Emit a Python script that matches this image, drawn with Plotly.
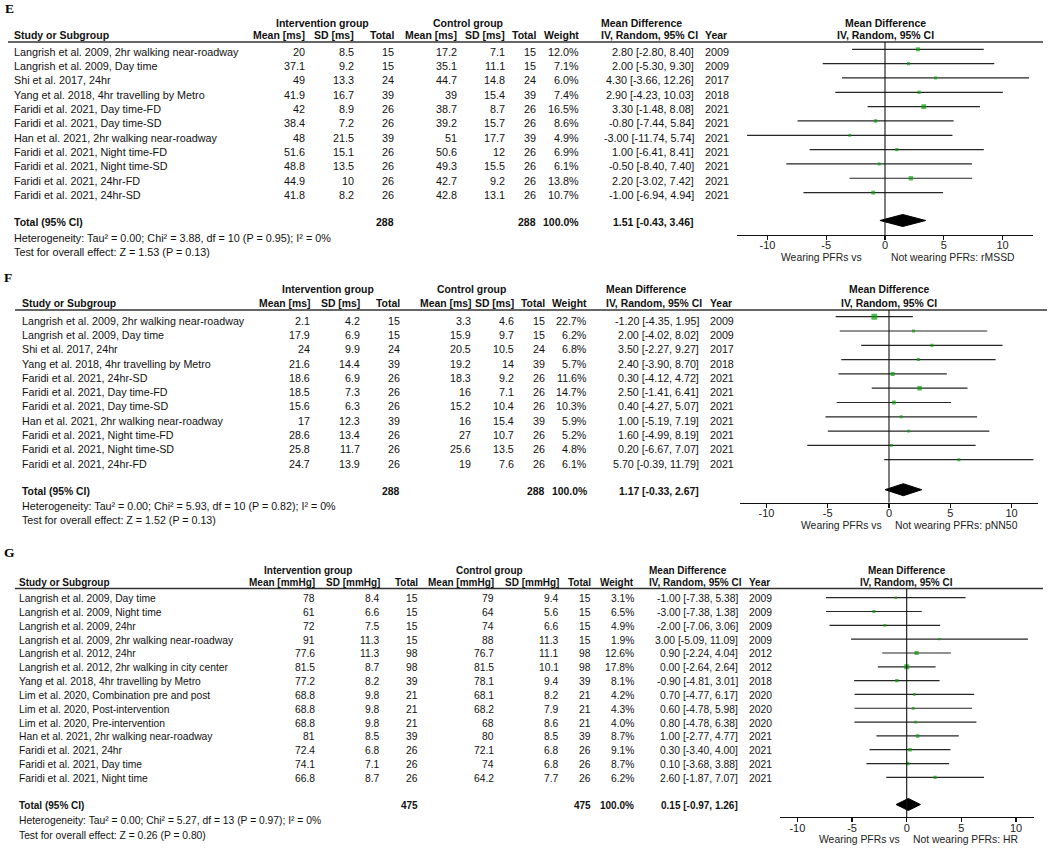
import plotly.graph_objects as go

W, H = 1050, 854
SANS = "Arial, 'Liberation Sans', Helvetica, sans-serif"
SERIF = "'Times New Roman', 'Liberation Serif', serif"

# ---------------- Panel E : rMSSD ----------------
e_study = ["Langrish et al. 2009, 2hr walking near-roadway", "Langrish et al. 2009, Day time",
           "Shi et al. 2017, 24hr", "Yang et al. 2018, 4hr travelling by Metro",
           "Faridi et al. 2021, Day time-FD", "Faridi et al. 2021, Day time-SD",
           "Han et al. 2021, 2hr walking near-roadway", "Faridi et al. 2021, Night time-FD",
           "Faridi et al. 2021, Night time-SD", "Faridi et al. 2021, 24hr-FD",
           "Faridi et al. 2021, 24hr-SD"]
e_int_mean = [20, 37.1, 49, 41.9, 42, 38.4, 48, 51.6, 48.8, 44.9, 41.8]
e_int_sd = [8.5, 9.2, 13.3, 16.7, 8.9, 7.2, 21.5, 15.1, 13.5, 10, 8.2]
e_int_n = [15, 15, 24, 39, 26, 26, 39, 26, 26, 26, 26]
e_ctl_mean = [17.2, 35.1, 44.7, 39, 38.7, 39.2, 51, 50.6, 49.3, 42.7, 42.8]
e_ctl_sd = [7.1, 11.1, 14.8, 15.4, 8.7, 15.7, 17.7, 12, 15.5, 9.2, 13.1]
e_ctl_n = [15, 15, 24, 39, 26, 26, 39, 26, 26, 26, 26]
e_weight = [12.0, 7.1, 6.0, 7.4, 16.5, 8.6, 4.9, 6.9, 6.1, 13.8, 10.7]
e_md = [2.80, 2.00, 4.30, 2.90, 3.30, -0.80, -3.00, 1.00, -0.50, 2.20, -1.00]
e_lo = [-2.80, -5.30, -3.66, -4.23, -1.48, -7.44, -11.74, -6.41, -8.40, -3.02, -6.94]
e_hi = [8.40, 9.30, 12.26, 10.03, 8.08, 5.84, 5.74, 8.41, 7.40, 7.42, 4.94]
e_year = [2009, 2009, 2017, 2018, 2021, 2021, 2021, 2021, 2021, 2021, 2021]
e_totals = [288, 288]
e_total_weight = "100.0%"
e_pooled = [1.51, -0.43, 3.46]
e_het = "Heterogeneity: Tau² = 0.00; Chi² = 3.88, df = 10 (P = 0.95); I² = 0%"
e_test = "Test for overall effect: Z = 1.53 (P = 0.13)"

# ---------------- Panel F : pNN50 ----------------
f_study = ["Langrish et al. 2009, 2hr walking near-roadway", "Langrish et al. 2009, Day time",
           "Shi et al. 2017, 24hr", "Yang et al. 2018, 4hr travelling by Metro",
           "Faridi et al. 2021, 24hr-SD", "Faridi et al. 2021, Day time-FD",
           "Faridi et al. 2021, Day time-SD", "Han et al. 2021, 2hr walking near-roadway",
           "Faridi et al. 2021, Night time-FD", "Faridi et al. 2021, Night time-SD",
           "Faridi et al. 2021, 24hr-FD"]
f_int_mean = [2.1, 17.9, 24, 21.6, 18.6, 18.5, 15.6, 17, 28.6, 25.8, 24.7]
f_int_sd = [4.2, 6.9, 9.9, 14.4, 6.9, 7.3, 6.3, 12.3, 13.4, 11.7, 13.9]
f_int_n = [15, 15, 24, 39, 26, 26, 26, 39, 26, 26, 26]
f_ctl_mean = [3.3, 15.9, 20.5, 19.2, 18.3, 16, 15.2, 16, 27, 25.6, 19]
f_ctl_sd = [4.6, 9.7, 10.5, 14, 9.2, 7.1, 10.4, 15.4, 10.7, 13.5, 7.6]
f_ctl_n = [15, 15, 24, 39, 26, 26, 26, 39, 26, 26, 26]
f_weight = [22.7, 6.2, 6.8, 5.7, 11.6, 14.7, 10.3, 5.9, 5.2, 4.8, 6.1]
f_md = [-1.20, 2.00, 3.50, 2.40, 0.30, 2.50, 0.40, 1.00, 1.60, 0.20, 5.70]
f_lo = [-4.35, -4.02, -2.27, -3.90, -4.12, -1.41, -4.27, -5.19, -4.99, -6.67, -0.39]
f_hi = [1.95, 8.02, 9.27, 8.70, 4.72, 6.41, 5.07, 7.19, 8.19, 7.07, 11.79]
f_year = [2009, 2009, 2017, 2018, 2021, 2021, 2021, 2021, 2021, 2021, 2021]
f_totals = [288, 288]
f_total_weight = "100.0%"
f_pooled = [1.17, -0.33, 2.67]
f_het = "Heterogeneity: Tau² = 0.00; Chi² = 5.93, df = 10 (P = 0.82); I² = 0%"
f_test = "Test for overall effect: Z = 1.52 (P = 0.13)"

# ---------------- Panel G : HR ----------------
g_study = ["Langrish et al. 2009, Day time", "Langrish et al. 2009, Night time",
           "Langrish et al. 2009, 24hr", "Langrish et al. 2009, 2hr walking near-roadway",
           "Langrish et al. 2012, 24hr", "Langrish et al. 2012, 2hr walking in city center",
           "Yang et al. 2018, 4hr travelling by Metro", "Lim et al. 2020, Combination pre and post",
           "Lim et al. 2020, Post-intervention", "Lim et al. 2020, Pre-intervention",
           "Han et al. 2021, 2hr walking near-roadway", "Faridi et al. 2021, 24hr",
           "Faridi et al. 2021, Day time", "Faridi et al. 2021, Night time"]
g_int_mean = [78, 61, 72, 91, 77.6, 81.5, 77.2, 68.8, 68.8, 68.8, 81, 72.4, 74.1, 66.8]
g_int_sd = [8.4, 6.6, 7.5, 11.3, 11.3, 8.7, 8.2, 9.8, 9.8, 9.8, 8.5, 6.8, 7.1, 8.7]
g_int_n = [15, 15, 15, 15, 98, 98, 39, 21, 21, 21, 39, 26, 26, 26]
g_ctl_mean = [79, 64, 74, 88, 76.7, 81.5, 78.1, 68.1, 68.2, 68, 80, 72.1, 74, 64.2]
g_ctl_sd = [9.4, 5.6, 6.6, 11.3, 11.1, 10.1, 9.4, 8.2, 7.9, 8.6, 8.5, 6.8, 6.8, 7.7]
g_ctl_n = [15, 15, 15, 15, 98, 98, 39, 21, 21, 21, 39, 26, 26, 26]
g_weight = [3.1, 6.5, 4.9, 1.9, 12.6, 17.8, 8.1, 4.2, 4.3, 4.0, 8.7, 9.1, 8.7, 6.2]
g_md = [-1.00, -3.00, -2.00, 3.00, 0.90, 0.00, -0.90, 0.70, 0.60, 0.80, 1.00, 0.30, 0.10, 2.60]
g_lo = [-7.38, -7.38, -7.06, -5.09, -2.24, -2.64, -4.81, -4.77, -4.78, -4.78, -2.77, -3.40, -3.68, -1.87]
g_hi = [5.38, 1.38, 3.06, 11.09, 4.04, 2.64, 3.01, 6.17, 5.98, 6.38, 4.77, 4.00, 3.88, 7.07]
g_year = [2009, 2009, 2009, 2009, 2012, 2012, 2018, 2020, 2020, 2020, 2021, 2021, 2021, 2021]
g_totals = [475, 475]
g_total_weight = "100.0%"
g_pooled = [0.15, -0.97, 1.26]
g_het = "Heterogeneity: Tau² = 0.00; Chi² = 5.27, df = 13 (P = 0.97); I² = 0%"
g_test = "Test for overall effect: Z = 0.26 (P = 0.80)"

tick_vals = [-10, -5, 0, 5, 10]
tick_text = ["-10", "-5", "0", "5", "10"]

panels = [
    dict(letter="E", unit="ms", outcome="rMSSD",
         study=e_study, im=e_int_mean, isd=e_int_sd, inn=e_int_n, cm=e_ctl_mean, csd=e_ctl_sd, cn=e_ctl_n,
         w=e_weight, md=e_md, lo=e_lo, hi=e_hi, year=e_year, totals=e_totals, tw=e_total_weight,
         pooled=e_pooled, het=e_het, test=e_test),
    dict(letter="F", unit="ms", outcome="pNN50",
         study=f_study, im=f_int_mean, isd=f_int_sd, inn=f_int_n, cm=f_ctl_mean, csd=f_ctl_sd, cn=f_ctl_n,
         w=f_weight, md=f_md, lo=f_lo, hi=f_hi, year=f_year, totals=f_totals, tw=f_total_weight,
         pooled=f_pooled, het=f_het, test=f_test),
    dict(letter="G", unit="mmHg", outcome="HR",
         study=g_study, im=g_int_mean, isd=g_int_sd, inn=g_int_n, cm=g_ctl_mean, csd=g_ctl_sd, cn=g_ctl_n,
         w=g_weight, md=g_md, lo=g_lo, hi=g_hi, year=g_year, totals=g_totals, tw=g_total_weight,
         pooled=g_pooled, het=g_het, test=g_test),
]

# layout geometry (pixels)
geo = [
    dict(letter_xy=(4, 8), h1=22.7, h2=35.5, rule=42, row0=51.7, dy=14.33, total=221.7, het=238.3, test=252.3,
         lab_x=13, cols=[306, 355, 395, 458, 506, 537, 580, 695], md_x=600, year_x=704,
         int_c=322, ctl_c=468, fs=10.8, rule_x=(8, 1043),
         fx0=737, fx1=1033, zero=885, scale=11.75, axis_y=235, yoff=-2.4, lab_y=257.5, lab_l=863, lab_r=890),
    dict(letter_xy=(3, 277), h1=289, h2=303.5, rule=310, row0=320.7, dy=14.3, total=491.7, het=505.7, test=519.5,
         lab_x=20.7, cols=[311, 361, 401, 472, 515, 546, 588, 700], md_x=605, year_x=709,
         int_c=328, ctl_c=471, fs=10.7, rule_x=(15, 1047),
         fx0=740, fx1=1038, zero=889, scale=12.25, axis_y=502.7, yoff=-4, lab_y=525.5, lab_l=883, lab_r=894),
    dict(letter_xy=(3, 552.7), h1=570.5, h2=582, rule=588.5, row0=598.7, dy=13.82, total=805, het=820, test=835,
         lab_x=18, cols=[316, 381, 419, 495, 560, 592, 635, 739], md_x=648, year_x=748,
         int_c=308, ctl_c=489, fs=10.3, rule_x=(15, 1043),
         fx0=779.5, fx1=1034, zero=906.7, scale=10.93, axis_y=817.3, yoff=-1, lab_y=839.5, lab_l=901, lab_r=911.7),
]

fig = go.Figure()
annotations = []
shapes = []


def px(x):
    return x / W


def py(y):
    return 1 - y / H


def add_text(x, y, s, anchor="left", size=10.8, bold=False, family=SANS, color="#111111"):
    if bold:
        s = "<b>" + s + "</b>"
    annotations.append(dict(x=px(x), y=py(y), xref="paper", yref="paper", text=s, showarrow=False,
                            xanchor=anchor, yanchor="middle", borderpad=0,
                            font=dict(family=family, size=size, color=color)))


def fmt(v):
    return f"{v:g}"


layout_axes = {}
for k, (p, g) in enumerate(zip(panels, geo), start=1):
    fs = g["fs"]
    hs = fs - 0.3  # bold header size
    xa = "x" if k == 1 else f"x{k}"
    ya = "y" if k == 1 else f"y{k}"
    fc = g["zero"]
    # panel letter
    add_text(g["letter_xy"][0], g["letter_xy"][1], p["letter"], "left", 13.5, True, SERIF, "#000")
    # header row 1
    add_text(g["int_c"], g["h1"], "Intervention group", "center", hs, True)
    add_text(g["ctl_c"], g["h1"], "Control group", "center", hs, True)
    add_text(g["md_x"], g["h1"], "Mean Difference", "left", hs, True)
    add_text(fc, g["h1"], "Mean Difference", "center", hs, True)
    # header row 2
    add_text(g["lab_x"], g["h2"], "Study or Subgroup", "left", hs, True)
    u = p["unit"]
    hdrs = [f"Mean [{u}]", f"SD [{u}]", "Total", f"Mean [{u}]", f"SD [{u}]", "Total", "Weight"]
    for hx, ht in zip(g["cols"][:7], hdrs):
        add_text(hx, g["h2"], ht, "right", hs, True)
    add_text(g["md_x"], g["h2"], "IV, Random, 95% CI", "left", hs, True)
    add_text(g["year_x"], g["h2"], "Year", "left", hs, True)
    add_text(fc, g["h2"], "IV, Random, 95% CI", "center", hs, True)
    # header rule
    shapes.append(dict(type="line", xref="paper", yref="paper", x0=px(g["rule_x"][0]), x1=px(g["rule_x"][1]),
                       y0=py(g["rule"]), y1=py(g["rule"]), line=dict(color="#333333", width=1.5)))
    # rows
    n = len(p["study"])
    row_y = [g["row0"] + i * g["dy"] for i in range(n)]
    c = g["cols"]
    for i in range(n):
        y = row_y[i]
        add_text(g["lab_x"], y, p["study"][i], "left", fs)
        vals = [fmt(p["im"][i]), fmt(p["isd"][i]), str(p["inn"][i]), fmt(p["cm"][i]), fmt(p["csd"][i]),
                str(p["cn"][i]), f"{p['w'][i]:.1f}%",
                f"{p['md'][i]:.2f} [{p['lo'][i]:.2f}, {p['hi'][i]:.2f}]"]
        for cx, v in zip(c, vals):
            add_text(cx, y, v, "right", fs)
        add_text(g["year_x"], y, str(p["year"][i]), "left", fs)
    # total row
    add_text(g["lab_x"], g["total"], "Total (95% CI)", "left", hs, True)
    add_text(c[2], g["total"], str(p["totals"][0]), "right", hs, True)
    add_text(c[5], g["total"], str(p["totals"][1]), "right", hs, True)
    add_text(c[6], g["total"], p["tw"], "right", hs, True)
    pm, plo, phi = p["pooled"]
    add_text(c[7], g["total"], f"{pm:.2f} [{plo:.2f}, {phi:.2f}]", "right", hs, True)
    add_text(g["lab_x"], g["het"], p["het"], "left", fs)
    add_text(g["lab_x"], g["test"], p["test"], "left", fs)

    # ---------- forest plot ----------
    fy = [yy + g["yoff"] for yy in row_y]
    lx, ly = [], []
    for i in range(n):
        lx += [p["lo"][i], p["hi"][i], None]
        ly += [fy[i], fy[i], None]
    fig.add_trace(go.Scatter(x=lx, y=ly, mode="lines", line=dict(color="#262626", width=1.2),
                             xaxis=xa, yaxis=ya, hoverinfo="skip", showlegend=False))
    fig.add_trace(go.Scatter(x=p["md"], y=fy, mode="markers",
                             marker=dict(symbol="square", color="#0c9c0c",
                                         size=[2.0 + 0.17 * wv for wv in p["w"]], line=dict(width=0)),
                             xaxis=xa, yaxis=ya, showlegend=False))
    ty = g["total"] + g["yoff"] * 0.5
    hh = 6
    fig.add_trace(go.Scatter(x=[plo, pm, phi, pm, plo], y=[ty, ty - hh, ty, ty + hh, ty], mode="lines",
                             fill="toself", fillcolor="#000000", line=dict(color="#000000", width=1),
                             xaxis=xa, yaxis=ya, hoverinfo="skip", showlegend=False))
    # zero line
    shapes.append(dict(type="line", xref=xa, yref=ya, x0=0, x1=0, y0=g["rule"], y1=g["axis_y"],
                       line=dict(color="#111111", width=1.1)))
    xr = [(g["fx0"] - g["zero"]) / g["scale"], (g["fx1"] - g["zero"]) / g["scale"]]
    layout_axes["xaxis" if k == 1 else f"xaxis{k}"] = dict(
        domain=[px(g["fx0"]), px(g["fx1"])], range=xr, anchor=ya, showgrid=False, zeroline=False,
        showline=True, linecolor="#111111", linewidth=1.1, ticks="outside", ticklen=4, tickwidth=1.1,
        tickcolor="#111111", tickvals=tick_vals, ticktext=tick_text, ticklabelstandoff=-4,
        tickfont=dict(family=SANS, size=11, color="#222222"), fixedrange=True)
    layout_axes["yaxis" if k == 1 else f"yaxis{k}"] = dict(
        domain=[py(g["axis_y"]), py(g["rule"])], range=[g["axis_y"], g["rule"]], anchor=xa,
        visible=False, showgrid=False, zeroline=False, fixedrange=True)
    # axis caption
    add_text(g["lab_l"], g["lab_y"], "Wearing PFRs vs", "right", 10.4, color="#222222")
    add_text(g["lab_r"], g["lab_y"], "Not wearing PFRs: " + p["outcome"], "left", 10.4, color="#222222")

fig.update_layout(
    width=W, height=H, margin=dict(l=0, r=0, t=0, b=0),
    paper_bgcolor="white", plot_bgcolor="white", showlegend=False,
    annotations=annotations, shapes=shapes, **layout_axes,
)

fig.write_html("out.html", config={"displayModeBar": False, "staticPlot": True},
               post_script="document.body.style.margin='0px';document.body.style.overflow='hidden';")
